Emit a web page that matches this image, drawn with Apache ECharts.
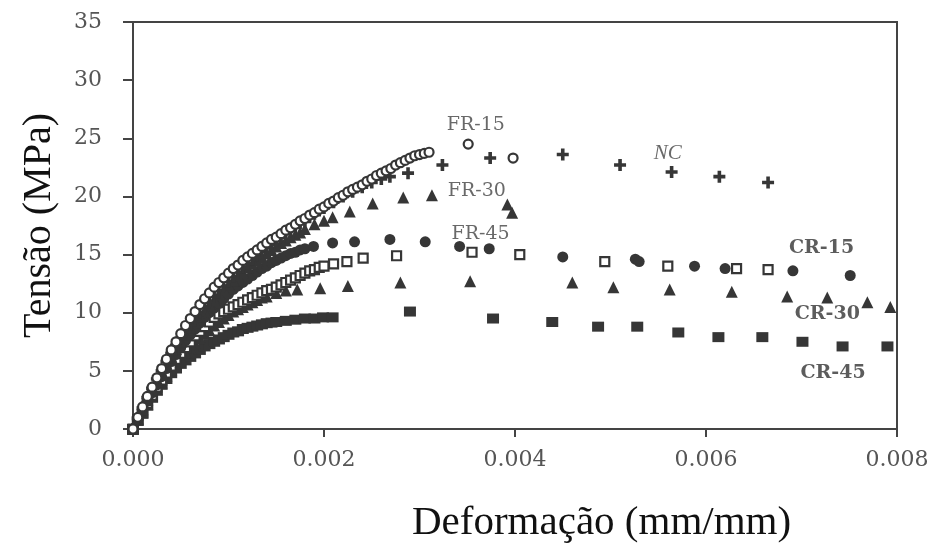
<!DOCTYPE html>
<html>
<head>
    <meta charset="utf-8">
    <title>Tensão x Deformação</title>
    <script src="https://cdn.jsdelivr.net/npm/echarts@6/dist/echarts.min.js"></script>
    <style>
        body, html {
            margin: 0;
            background: #fff;
        }

        #chart {
            width: 937px;
            height: 548px;
        }
    </style>
</head>
<body>
<div id="chart"></div>
<script type="text/javascript">
    // values: [strain (mm/mm), stress (MPa)]
    var ncData = [
        [0, 0], [0.00005, 0.9], [0.0001, 1.8], [0.00015, 2.7], [0.0002, 3.5], [0.00025, 4.3],
        [0.0003, 5.0], [0.00035, 5.8], [0.0004, 6.5], [0.00045, 7.2], [0.0005, 7.8],
        [0.00055, 8.4], [0.0006, 9.0], [0.00065, 9.5], [0.0007, 10.0], [0.00075, 10.5],
        [0.0008, 11.0], [0.00085, 11.4], [0.0009, 11.9], [0.00095, 12.3], [0.001, 12.7],
        [0.00105, 13.1], [0.0011, 13.5], [0.00115, 13.9], [0.0012, 14.2], [0.00125, 14.6],
        [0.0013, 14.9], [0.00135, 15.3], [0.0014, 15.6], [0.00145, 15.9], [0.0015, 16.2],
        [0.00155, 16.5], [0.0016, 16.8], [0.00165, 17.1], [0.0017, 17.4], [0.00175, 17.7],
        [0.0018, 17.9], [0.00185, 18.2], [0.0019, 18.5], [0.00195, 18.8], [0.002, 19.0],
        [0.0021, 19.5], [0.0022, 20.0], [0.0023, 20.4], [0.0024, 20.8], [0.0025, 21.2],
        [0.0026, 21.5], [0.00269, 21.7], [0.00288, 22.0], [0.00324, 22.7], [0.00374, 23.3],
        [0.0045, 23.6], [0.0051, 22.7], [0.00564, 22.1], [0.00614, 21.7], [0.00665, 21.2]
    ];
    var fr15Data = [
        [0, 0], [0.00005, 1.0], [0.0001, 1.9], [0.00015, 2.8], [0.0002, 3.6], [0.00025, 4.4],
        [0.0003, 5.2], [0.00035, 6.0], [0.0004, 6.8], [0.00045, 7.5], [0.0005, 8.2],
        [0.00055, 8.9], [0.0006, 9.5], [0.00065, 10.1], [0.0007, 10.7], [0.00075, 11.2],
        [0.0008, 11.7], [0.00085, 12.2], [0.0009, 12.6], [0.00095, 13.0], [0.001, 13.4],
        [0.00105, 13.8], [0.0011, 14.1], [0.00115, 14.5], [0.0012, 14.8], [0.00125, 15.1],
        [0.0013, 15.4], [0.00135, 15.7], [0.0014, 16.0], [0.00145, 16.3], [0.0015, 16.5],
        [0.00155, 16.8], [0.0016, 17.1], [0.00165, 17.3], [0.0017, 17.6], [0.00175, 17.9],
        [0.0018, 18.1], [0.00185, 18.4], [0.0019, 18.6], [0.00195, 18.9], [0.002, 19.1],
        [0.00205, 19.4], [0.0021, 19.6], [0.00215, 19.9], [0.0022, 20.1], [0.00225, 20.4],
        [0.0023, 20.6], [0.00235, 20.8], [0.0024, 21.0], [0.00245, 21.3], [0.0025, 21.5],
        [0.00255, 21.8], [0.0026, 22.0], [0.00265, 22.2], [0.0027, 22.4], [0.00275, 22.7],
        [0.0028, 22.9], [0.00285, 23.1], [0.0029, 23.3], [0.00295, 23.5], [0.003, 23.6],
        [0.00305, 23.7], [0.0031, 23.8], [0.00351, 24.5], [0.00398, 23.3]
    ];
    var fr30Data = [
        [0, 0], [0.00005, 0.9], [0.0001, 1.7], [0.00015, 2.5], [0.0002, 3.3], [0.00025, 4.1],
        [0.0003, 4.8], [0.00035, 5.5], [0.0004, 6.2], [0.00045, 6.9], [0.0005, 7.5],
        [0.00055, 8.1], [0.0006, 8.7], [0.00065, 9.2], [0.0007, 9.7], [0.00075, 10.2],
        [0.0008, 10.7], [0.00085, 11.1], [0.0009, 11.6], [0.00095, 12.0], [0.001, 12.4],
        [0.00105, 12.8], [0.0011, 13.2], [0.00115, 13.5], [0.0012, 13.9], [0.00125, 14.2],
        [0.0013, 14.5], [0.00135, 14.8], [0.0014, 15.1], [0.00145, 15.4], [0.0015, 15.7],
        [0.00155, 16.0], [0.0016, 16.2], [0.00165, 16.5], [0.0017, 16.7], [0.00175, 16.9],
        [0.0018, 17.2], [0.0019, 17.6], [0.002, 17.9], [0.00209, 18.2], [0.00227, 18.7],
        [0.00251, 19.4], [0.00283, 19.9], [0.00313, 20.1], [0.00392, 19.3], [0.00397, 18.6]
    ];
    var fr45Data = [
        [0, 0], [0.00005, 0.8], [0.0001, 1.5], [0.00015, 2.2], [0.0002, 2.9], [0.00025, 3.6],
        [0.0003, 4.2], [0.00035, 4.8], [0.0004, 5.4], [0.00045, 6.0], [0.0005, 6.5],
        [0.00055, 7.0], [0.0006, 7.5], [0.00065, 8.0], [0.0007, 8.4], [0.00075, 8.8],
        [0.0008, 9.2], [0.00085, 9.6], [0.0009, 9.9], [0.00095, 10.1], [0.001, 10.3],
        [0.00105, 10.5], [0.0011, 10.7], [0.00115, 10.9], [0.0012, 11.1], [0.00125, 11.3],
        [0.0013, 11.5], [0.00135, 11.7], [0.0014, 11.9], [0.00145, 12.0], [0.0015, 12.2],
        [0.00155, 12.4], [0.0016, 12.6], [0.00165, 12.8], [0.0017, 13.0], [0.00175, 13.2],
        [0.0018, 13.4], [0.00185, 13.6], [0.0019, 13.7], [0.00195, 13.9], [0.002, 14.0],
        [0.0021, 14.2], [0.00224, 14.4], [0.00241, 14.7], [0.00276, 14.9], [0.00355, 15.2],
        [0.00405, 15.0], [0.00494, 14.4], [0.0056, 14.0], [0.00632, 13.8], [0.00665, 13.7]
    ];
    var cr15Data = [
        [0, 0], [0.00005, 0.8], [0.0001, 1.6], [0.00015, 2.4], [0.0002, 3.1], [0.00025, 3.8],
        [0.0003, 4.5], [0.00035, 5.2], [0.0004, 5.8], [0.00045, 6.4], [0.0005, 7.0],
        [0.00055, 7.6], [0.0006, 8.1], [0.00065, 8.6], [0.0007, 9.1], [0.00075, 9.6],
        [0.0008, 10.0], [0.00085, 10.4], [0.0009, 10.8], [0.00095, 11.2], [0.001, 11.6],
        [0.00105, 12.0], [0.0011, 12.3], [0.00115, 12.6], [0.0012, 12.9], [0.00125, 13.2],
        [0.0013, 13.5], [0.00135, 13.8], [0.0014, 14.0], [0.00145, 14.3], [0.0015, 14.5],
        [0.00155, 14.7], [0.0016, 14.9], [0.00165, 15.1], [0.0017, 15.2], [0.00175, 15.4],
        [0.0018, 15.5], [0.00189, 15.7], [0.00209, 16.0], [0.00232, 16.1], [0.00269, 16.3],
        [0.00306, 16.1], [0.00342, 15.7], [0.00373, 15.5], [0.0045, 14.8], [0.00526, 14.6],
        [0.0053, 14.4], [0.00588, 14.0], [0.0062, 13.8], [0.00691, 13.6], [0.00751, 13.2]
    ];
    var cr30Data = [
        [0, 0], [0.00005, 0.8], [0.0001, 1.5], [0.00015, 2.2], [0.0002, 2.8], [0.00025, 3.4],
        [0.0003, 4.0], [0.00035, 4.6], [0.0004, 5.1], [0.00045, 5.6], [0.0005, 6.1],
        [0.00055, 6.6], [0.0006, 7.0], [0.00065, 7.4], [0.0007, 7.8], [0.00075, 8.2],
        [0.0008, 8.5], [0.00085, 8.9], [0.0009, 9.2], [0.00095, 9.5], [0.001, 9.8],
        [0.00105, 10.1], [0.0011, 10.3], [0.00115, 10.5], [0.0012, 10.7], [0.00125, 10.9],
        [0.0013, 11.1], [0.00135, 11.3], [0.0014, 11.4], [0.0015, 11.7], [0.0016, 11.9],
        [0.00172, 12.0], [0.00196, 12.1], [0.00225, 12.3], [0.0028, 12.6], [0.00353, 12.7],
        [0.0046, 12.6], [0.00503, 12.2], [0.00562, 12.0], [0.00627, 11.8], [0.00685, 11.4],
        [0.00727, 11.3], [0.00769, 10.9], [0.00793, 10.5]
    ];
    var cr45Data = [
        [0, 0], [0.00005, 0.7], [0.0001, 1.3], [0.00015, 2.0], [0.0002, 2.7], [0.00025, 3.3],
        [0.0003, 3.8], [0.00035, 4.3], [0.0004, 4.8], [0.00045, 5.2], [0.0005, 5.6],
        [0.00055, 5.9], [0.0006, 6.2], [0.00065, 6.5], [0.0007, 6.8], [0.00075, 7.1],
        [0.0008, 7.3], [0.00085, 7.5], [0.0009, 7.7], [0.00095, 7.9], [0.001, 8.1],
        [0.00105, 8.3], [0.0011, 8.4], [0.00115, 8.6], [0.0012, 8.7], [0.00125, 8.8],
        [0.0013, 8.9], [0.00135, 9.0], [0.0014, 9.1], [0.00145, 9.15], [0.0015, 9.2],
        [0.0016, 9.3], [0.0017, 9.4], [0.0018, 9.5], [0.0019, 9.5], [0.00199, 9.6],
        [0.00209, 9.6], [0.0029, 10.1], [0.00377, 9.5], [0.00439, 9.2], [0.00487, 8.8],
        [0.00528, 8.8], [0.00571, 8.3], [0.00613, 7.9], [0.00659, 7.9], [0.00701, 7.5],
        [0.00743, 7.1], [0.0079, 7.1]
    ];

    // curve names written inside the plot, at data coordinates
    var frLabels = [['FR-15', 0.00359, 26.1], ['FR-30', 0.0036, 20.5], ['FR-45', 0.00364, 16.8]];
    var ncLabels = [['NC', 0.0056, 23.7]];
    var crLabels = [['CR-15', 0.00721, 15.6], ['CR-30', 0.00727, 9.9], ['CR-45', 0.00733, 4.8]];

    var xTicks = [0, 0.002, 0.004, 0.006, 0.008];
    var yTicks = [0, 5, 10, 15, 20, 25, 30, 35];

    var ink = '#363636';
    var plusPath = 'path://M0,3.5H3.5V0H6.5V3.5H10V6.5H6.5V10H3.5V6.5H0Z';

    function marks(name, data, symbol, size, hollow) {
        return {
            name: name,
            type: 'scatter',
            data: data,
            symbol: symbol,
            symbolSize: size,
            itemStyle: hollow ? {color: '#fff', borderColor: ink, borderWidth: 2.2, opacity: 1}
                : {color: ink, opacity: 1},
            emphasis: {disabled: true}
        };
    }

    function labelSeries(list, style) {
        return {
            type: 'scatter',
            silent: true,
            symbolSize: 1,
            itemStyle: {color: 'rgba(0,0,0,0)'},
            data: list.map(function (l) {
                return {name: l[0], value: [l[1], l[2]]};
            }),
            label: Object.assign({
                show: true,
                position: 'inside',
                formatter: '{b}',
                color: '#444',
                fontFamily: 'DejaVu Serif'
            }, style),
            z: 5
        };
    }

    var myChart = echarts.init(document.getElementById('chart'));

    var option = {
        backgroundColor: '#fff',
        animation: false,
        grid: {
            show: true,
            left: 133,
            right: 40,
            top: 22,
            bottom: 119,
            outerBoundsMode: 'none',
            borderColor: '#444',
            borderWidth: 2
        },
        xAxis: {
            type: 'value',
            min: xTicks[0],
            max: xTicks[xTicks.length - 1],
            interval: xTicks[1] - xTicks[0],
            splitLine: {show: false},
            axisLine: {lineStyle: {color: '#444', width: 2}},
            axisTick: {show: true, length: 8, lineStyle: {color: '#444', width: 2}},
            axisLabel: {
                margin: 20,
                color: '#555',
                fontFamily: 'DejaVu Serif',
                fontSize: 22,
                formatter: function (v) {
                    return v.toFixed(3);
                }
            }
        },
        yAxis: {
            type: 'value',
            min: yTicks[0],
            max: yTicks[yTicks.length - 1],
            interval: yTicks[1] - yTicks[0],
            name: 'Tensão (MPa)',
            nameLocation: 'middle',
            nameGap: 74,
            nameTextStyle: {
                fontFamily: 'Liberation Serif',
                fontSize: 40,
                color: '#111'
            },
            splitLine: {show: false},
            axisLine: {lineStyle: {color: '#444', width: 2}},
            axisTick: {show: true, length: 10, lineStyle: {color: '#444', width: 2}},
            axisLabel: {
                margin: 31,
                color: '#555',
                fontFamily: 'DejaVu Serif',
                fontSize: 22
            }
        },
        graphic: [{
            type: 'text',
            left: 412,
            top: 503,
            style: {
                text: 'Deformação (mm/mm)',
                font: '41px "Liberation Serif"',
                fill: '#111'
            }
        }],
        series: [
            marks('CR-45', cr45Data, 'rect', [12, 10], false),
            marks('CR-30', cr30Data, 'triangle', 12, false),
            marks('FR-45', fr45Data, 'rect', 9, true),
            marks('CR-15', cr15Data, 'circle', 11, false),
            marks('FR-30', fr30Data, 'triangle', 12, false),
            marks('NC', ncData, plusPath, 12, false),
            marks('FR-15', fr15Data, 'circle', 9, true),
            labelSeries(frLabels, {fontSize: 19}),
            labelSeries(ncLabels, {fontSize: 21, fontStyle: 'italic', fontFamily: 'Liberation Serif'}),
            labelSeries(crLabels, {fontSize: 19, fontWeight: 'bold', color: '#333'})
        ]
    };

    myChart.setOption(option);
</script>
</body>
</html>
